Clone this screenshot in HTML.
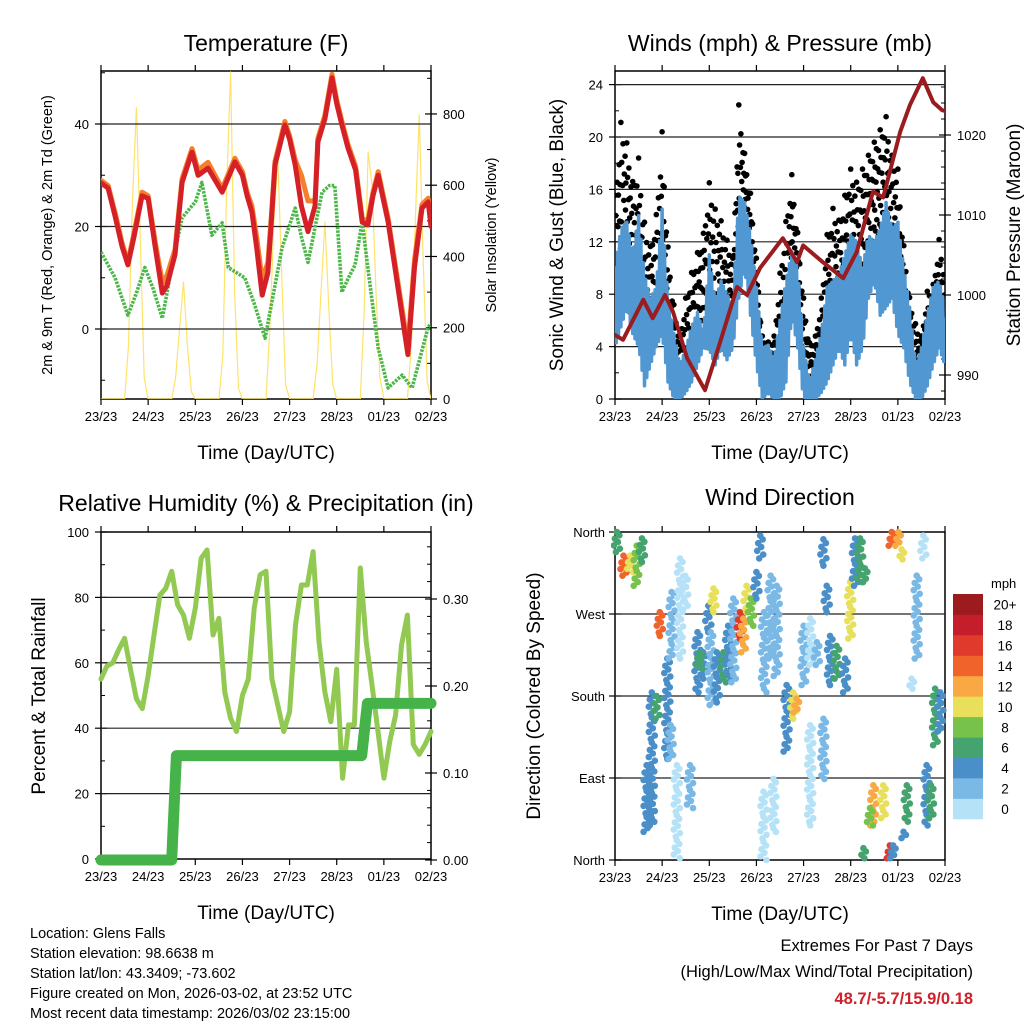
<!DOCTYPE html>
<html><head><meta charset="utf-8"><style>
body{margin:0;background:#fff}
svg text{font-family:"Liberation Sans",Arial,sans-serif;fill:#000}
</style></head><body>
<svg id="s" width="1024" height="1024" viewBox="0 0 1024 1024" xmlns="http://www.w3.org/2000/svg">
<g id="bg"></g>
</svg>
<script>
// ---- data ----
const dayLabels=["23/23","24/23","25/23","26/23","27/23","28/23","01/23","02/23"];
const tempDays=[0,0.15,0.3,0.45,0.57,0.7,0.87,1.0,1.15,1.3,1.4,1.57,1.72,1.93,2.06,2.27,2.57,2.84,3.0,3.1,3.2,3.3,3.42,3.54,3.62,3.69,3.9,4.0,4.12,4.25,4.39,4.54,4.6,4.75,4.9,5.0,5.11,5.24,5.4,5.54,5.66,5.77,5.88,6.09,6.3,6.51,6.65,6.81,6.94,7.0];
const temp2m=[28.5,27.5,22,16,12.5,18,26,25.5,16,7,8.5,14.5,28.6,34.5,30,31.4,26.7,32.6,30,26,22.8,16,6.6,11,22,32,39.8,37,32,24,19,24,36.5,41,49,44,39.8,35.3,31,20.9,20.3,26,30,20.9,8,-5,12,23.6,24.8,20];
const temp9m=[29,28,22.7,16.7,13,18.7,26.7,26,17,9,10.5,15.5,29.3,35.2,31,32.5,27.4,33.3,30.7,26.7,24,18,9.6,13,23,32.7,40.5,37.7,33,30,25,25,37.2,41.7,49.7,44.7,40.5,36,31.7,21.6,21,26.7,30.7,21.6,9,-3.5,13.5,24.3,25.5,20.7];
const dewDays=[0,0.3,0.57,0.75,0.93,1.1,1.3,1.5,1.72,2.0,2.14,2.35,2.57,2.7,3.05,3.25,3.48,3.84,4.12,4.25,4.39,4.69,4.85,4.96,5.11,5.25,5.39,5.54,5.66,5.88,6.09,6.39,6.6,6.94,7.0];
const dewPt=[15,10,2.7,7,12,8,2.1,12,21.7,24.8,28.6,18.3,20.7,12,10,5,-1.8,15.8,23.6,18,13,26.7,28,28,7.2,10,12.5,21,12,-3.7,-11.5,-9,-11.5,0.4,1];
const solar=[0,0,0,0,0,0,0,150,550,817,450,60, 0,0,0,0,0,0,0,60,200,328,150,20, 0,0,0,0,0,0,0,120,600,918,300,30, 0,0,0,0,0,0,0,200,500,677,350,40, 0,0,0,0,0,0,0,100,300,497,250,40, 0,0,0,0,0,0,0,250,694,600,300,60, 0,0,0,0,0,0,0,150,500,798,400,50,0];
const windHi=[10,13,13.5,11,14,9.5,7.7,8.5,14.5,7.5,5,2.6,3.8,5.5,6.6,5,11,7.5,9,8,7,15.5,15,12.5,8.5,3.9,4.1,3,6,9,11.2,10,4,1.3,3,5,8.5,9,9.5,11,12.5,12,10,12.5,12,13,15,13,13.5,10,7,2.6,3.9,6.5,8.5,9,7];
const windLo=[4,5.5,7,5,4,1,2.6,4,5,1.3,0,0,0.5,1.3,2.6,3.9,3.8,2.6,3.9,3,3.9,7.7,10,6.4,2.6,0,0.5,0,0,1.3,6.4,3.9,0,0,0,0.5,1.3,2.6,3.9,2.6,5,2.6,3.9,7.7,9,6.4,7,7.7,5,3.9,1.3,0,0,1,2.6,3.9,2.6];
const gustHi=[16,21.7,20,17,19,14,12,14.5,21,12,7.5,5,8,10,11.5,13,17,15,14,12.5,11,23,19,16,11,5,4.5,5,10,14,17.5,13,8,4.5,5,8,13,15,14,16,18,17,18,19,20,21,22,19,18,12,8,6,5,8.5,9,12.5,10];
const gustLo=[7,10,11,9,7,4,5,6,9,4,1.5,1,2,3,5,6,7,5,6,5,6,12,14,10,6,1,1.3,1,2,5,10,7,2,0.5,1,2,4,6,7,7,9,8,9,11,12,12,13,11,9,6,3,1,1,3,4,6,4];
const presDays=[0,0.17,0.6,0.8,1.06,1.23,1.53,1.91,2.23,2.59,2.8,3.08,3.56,3.86,3.99,4.41,4.84,5.13,5.47,5.69,6.05,6.26,6.53,6.75,6.94,7.0];
const pressure=[995,994.4,999.4,997.1,1000,997.9,992.1,988.1,994.1,1001,1000,1003.4,1007.1,1004.1,1006.2,1004.1,1002.1,1005.4,1012.9,1012.2,1020.4,1023.8,1027.1,1024.1,1023.1,1023];
const rh=[55,59,60,64,67.5,58,49,46,56,68.5,80.7,82.8,88,77.7,74.6,67.5,76.7,92,94.5,68.5,73.6,51,43,39,50,55,76.7,86.9,88,55,47,39,45,71.6,83.8,83.8,94,66.5,51,42,58,24.7,41,41,89,66.5,53,39,24.7,36,44,65.4,74.6,35,32,35,39];
const precipDays=[0,1.5,1.6,5.53,5.65,7.0];
const precipTotal=[0,0,0.12,0.12,0.18,0.18];
// wind direction streaks: day, dir from, dir to, speed
const dirDay=[0.04,0.18,0.32,0.46,0.57,0.95,0.78,0.67,0.88,1.11,1.18,1.2,1.38,1.31,1.59,1.49,1.75,1.87,1.79,1.98,2.03,2.09,2.16,2.3,2.4,2.51,2.65,2.72,2.79,2.88,3.0,3.08,3.16,3.3,3.43,3.15,3.36,3.64,3.78,3.85,4.0,4.14,4.28,4.14,4.42,4.49,4.42,4.56,4.7,4.88,4.99,5.09,5.2,5.3,5.48,5.69,5.41,5.87,6.01,6.08,5.83,6.19,6.12,6.4,6.54,6.61,6.7,6.79,6.9,5.9,5.27,6.29];
const dirFrom=[360,334,334,345,353,272,184,104,180,221,148,294,331,104,104,312,250,228,228,279,250,298,228,228,257,287,272,265,301,287,316,356,272,312,301,75,89,192,184,177,257,265,239,148,352,301,155,246,235,221,305,353,353,320,82,82,57,360,360,341,16,82,31,312,356,104,82,188,184,16,13,199];
const dirTo=[338,312,316,301,327,246,38,31,155,111,111,221,221,2,57,275,184,199,210,250,170,272,173,195,199,195,243,228,272,257,287,331,184,221,202,0,31,119,155,162,192,214,214,38,323,272,89,192,199,184,243,301,305,305,38,46,38,345,345,330,2,42,24,221,331,38,46,126,141,2,2,188];
const dirSpeed=[7,15,11,9,7,15,4,5,7,4,3,2,1,1,2,1,4,4,6,4,3,10,5,6,4,2,16,13,10,8,5,4,2,2,2,1,0,5,10,12,3,1,2,1,4,4,2,5,6,4,10,5,6,7,12,10,9,15,12,11,16,7,4,2,1,4,6,7,5,5,7,1];
const speedColors=["#b6e2f8","#7ab9e6","#4a8fc8","#44a36e","#77c24a","#e8e05a","#f9a944","#f0632a","#e03a2c","#c41e2a","#9b1b1f"];
const speedLabels=["0","2","4","6","8","10","12","14","16","18","20+"];

// ---- helpers ----
const NS="http://www.w3.org/2000/svg";
const svg=document.getElementById('s');
function el(tag,attrs,parent,text){const e=document.createElementNS(NS,tag);for(const k in attrs)e.setAttribute(k,attrs[k]);if(text!==undefined)e.textContent=text;(parent||svg).appendChild(e);return e;}
const W=330;
function xD(left,d){return left+d*W/7;}

function frame(left,top,bottom,name){
  const g=el('g',{});
  
  
  el('rect',{x:left,y:top,width:W,height:bottom-top,fill:'none',stroke:'#000','stroke-width':1.5},g);
  for(let i=0;i<8;i++){const x=xD(left,i);
    el('line',{x1:x,x2:x,y1:bottom,y2:bottom+6,stroke:'#000','stroke-width':1.2},g);
    el('line',{x1:x,x2:x,y1:top,y2:top-6,stroke:'#000','stroke-width':1.2},g);
    const t=el('text',{x:x,y:bottom+22,'font-size':13,'text-anchor':'middle'},g,dayLabels[i]);
    
    
  }
  const xt=el('text',{x:left+W/2,y:bottom+60,'font-size':19,'text-anchor':'middle'},g,'Time (Day/UTC)');
  
  
  return g;
}
function grid(left,ys,g){ys.forEach(y=>el('line',{x1:left,x2:left+W,y1:y,y2:y,stroke:'#222','stroke-width':1.2},g));}
function yTicks(x,vals,yf,fmt,side,g,minor){
  vals.forEach(v=>{const y=yf(v);
    el('line',{x1:x-6,x2:x+6,y1:y,y2:y,stroke:'#000','stroke-width':1.2},g);
    const t=el('text',{x:side<0?x-12:x+12,y:y+5,'font-size':13,'text-anchor':side<0?'end':'start'},g,fmt(v));
    
    
  });
  if(minor)minor.forEach(v=>{const y=yf(v);el('line',{x1:x,x2:x-side*4,y1:y,y2:y,stroke:'#000','stroke-width':1},g);});
}
function vtitle(x,y,txt,size,g,name){const t=el('text',{x:0,y:0,'font-size':size,'text-anchor':'middle',transform:`translate(${x},${y}) rotate(-90)`},g,txt);
  
  }
function title(x,y,txt,name){const t=el('text',{x:x,y:y,'font-size':23,'text-anchor':'middle'},svg,txt);
  
  }
function poly(pts,attrs,g,name){const p=el('polyline',Object.assign({points:pts.map(p=>p[0].toFixed(1)+','+p[1].toFixed(1)).join(' '),fill:'none','stroke-linejoin':'round','stroke-linecap':'round'},attrs),g);
  
  return p;}
function interp(arr,t){const i=Math.floor(t),f=t-i;if(i>=arr.length-1)return arr[arr.length-1];return arr[i]*(1-f)+arr[i+1]*f;}

// ---- Panel 1: Temperature ----
(function(){
  const L=101,T=71,B=399;
  const yT=v=>329-5.125*v, yS=v=>399-v*0.3563;
  title(266,51,'Temperature (F)','temperature-title');
  const g=frame(L,T,B,'temperature');
  const clip=el('clipPath',{id:'c1'});el('rect',{x:L,y:T,width:W,height:B-T},clip);
  const d=el('g',{'clip-path':'url(#c1)'});
  poly(solar.map((v,i)=>[xD(L,i/12),yS(v)]),{stroke:'#fde36a','stroke-width':1.2},d,'solar-insolation-line');
  grid(L,[yT(40),yT(20),yT(0)],d);
  poly(dewDays.map((v,i)=>[xD(L,v),yT(dewPt[i])]),{stroke:'#4cb649','stroke-width':3.6,'stroke-dasharray':'2.5 1.2','stroke-linecap':'butt'},d,'dewpoint-line');
  poly(tempDays.map((v,i)=>[xD(L,v),yT(temp9m[i])]),{stroke:'#f57f2a','stroke-width':5},d,'temp-9m-line');
  poly(tempDays.map((v,i)=>[xD(L,v),yT(temp2m[i])]),{stroke:'#d42026','stroke-width':5},d,'temp-2m-line');
  yTicks(L,[0,20,40],yT,v=>String(v),-1,g,[-10,10,30,50]);
  yTicks(L+W,[0,200,400,600,800],yS,v=>String(v),1,g,[100,300,500,700,900]);
  vtitle(52,235,'2m & 9m T (Red, Orange) & 2m Td (Green)',14.5,g,'temperature-y-axis-title');
  vtitle(496,235,'Solar Insolation (Yellow)',14.5,g,'solar-y-axis-title');
})();

// ---- Panel 2: Winds & Pressure ----
(function(){
  const L=615,T=71,B=399;
  const yW=v=>399-13.1*v, yP=v=>295-(v-1000)*8;
  title(780,51,'Winds (mph) & Pressure (mb)','winds-title');
  const g=frame(L,T,B,'winds');
  const clip=el('clipPath',{id:'c2'});el('rect',{x:L,y:T,width:W,height:B-T},clip);
  const d=el('g',{'clip-path':'url(#c2)'});
  grid(L,[4,8,12,16,20,24].map(yW),d);
  // gust dots
  const fr=[0.95,0.3,0.7,0.1,0.55,0.85,0.2,0.45,0.65,0.05,0.8,0.38,0.6,0.15];
  const gg=el('g',{},d);
  
  
  for(let i=0;i<gustHi.length-1;i++){for(let k=0;k<14;k++){const t=i+k/14;const hi=interp(gustHi,t),lo=interp(gustLo,t);
    el('circle',{cx:xD(L,t/8).toFixed(1),cy:yW(lo+(hi-lo)*fr[k]).toFixed(1),r:2.8,fill:'#000'},gg);}}
  // wind band
  const pts=[];
  for(let i=0;i<(windHi.length-1)*5;i++){const t=i/5;pts.push([xD(L,t/8),yW(i%2?interp(windLo,t):interp(windHi,t))]);}
  const up=windHi.map((v,i)=>[xD(L,i/8),yW(v*0.8+windLo[i]*0.2)]);
  const dn=windLo.map((v,i)=>[xD(L,i/8),yW(v*0.8+windHi[i]*0.2)]).reverse();
  const pg=el('polygon',{points:up.concat(dn).map(p=>p[0].toFixed(1)+','+p[1].toFixed(1)).join(' '),fill:'#5197d2'},d);
  
  
  poly(pts,{stroke:'#5197d2','stroke-width':3.5},d,'wind-speed-line');
  poly(presDays.map((v,i)=>[xD(L,v),yP(pressure[i])]),{stroke:'#9b1c1f','stroke-width':4},d,'pressure-line');
  yTicks(L,[0,4,8,12,16,20,24],yW,v=>String(v),-1,g,[2,6,10,14,18,22]);
  yTicks(L+W,[990,1000,1010,1020],yP,v=>String(v),1,g,[988,992,994,996,998,1002,1004,1006,1008,1012,1014,1016,1018,1022,1024,1026,1028]);
  vtitle(563,235,'Sonic Wind & Gust (Blue, Black)',19,g,'wind-y-axis-title');
  vtitle(1020,235,'Station Pressure (Maroon)',19,g,'pressure-y-axis-title');
})();

// ---- Panel 3: RH & Precip ----
(function(){
  const L=101,T=532,B=859;
  const yR=v=>859-v*3.27, yPr=v=>860-v*870;
  title(266,511,'Relative Humidity (%) & Precipitation (in)','humidity-title');
  const g=frame(L,T,B,'humidity');
  const clip=el('clipPath',{id:'c3'});el('rect',{x:L-6,y:T,width:W+12,height:B-T+8},clip);
  const d=el('g',{'clip-path':'url(#c3)'});
  grid(L,[20,40,60,80].map(yR),d);
  poly(rh.map((v,i)=>[xD(L,i/8),yR(v)]),{stroke:'#92c952','stroke-width':5},d,'humidity-line');
  poly(precipDays.map((v,i)=>[xD(L,v),yPr(precipTotal[i])]),{stroke:'#45b34a','stroke-width':11},d,'precipitation-line');
  yTicks(L,[0,20,40,60,80,100],yR,v=>String(v),-1,g,[10,30,50,70,90]);
  yTicks(L+W,[0,0.1,0.2,0.3],yPr,v=>v.toFixed(2),1,g,[0.02,0.04,0.06,0.08,0.12,0.14,0.16,0.18,0.22,0.24,0.26,0.28,0.32,0.34,0.36]);
  vtitle(45,696,'Percent & Total Rainfall',19,g,'humidity-y-axis-title');
})();

// ---- Panel 4: Wind direction ----
(function(){
  const L=615,T=532,B=860;
  const yD=v=>532+(360-v)*328/360;
  title(780,505,'Wind Direction','wind-direction-title');
  const g=frame(L,T,B,'wind-direction');
  const clip=el('clipPath',{id:'c4'});el('rect',{x:L-4,y:T-4,width:W+8,height:B-T+8},clip);
  const d=el('g',{'clip-path':'url(#c4)'});
  grid(L,[90,180,270].map(yD),d);
  const jit=[0,2.5,-2,1,-3,3,-1];
  for(let s=0;s<dirDay.length;s++){
    const a=dirFrom[s],b=dirTo[s];const n=Math.max(1,Math.round(Math.abs(a-b)/4));
    const bin=Math.min(10,Math.floor(dirSpeed[s]/2));
    for(let k=0;k<=n;k++){const v=a+(b-a)*k/n;
      const c=el('circle',{cx:(xD(L,dirDay[s])+jit[k%7]).toFixed(1),cy:yD(v).toFixed(1),r:3.3,fill:speedColors[bin]},d);
      
      
    }
  }
  const labs=[[360,'North'],[270,'West'],[180,'South'],[90,'East'],[0,'North']];
  labs.forEach(l=>{const y=yD(l[0]);el('line',{x1:L-6,x2:L+6,y1:y,y2:y,stroke:'#000','stroke-width':1.2},g);
    const t=el('text',{x:L-10,y:y+5,'font-size':13,'text-anchor':'end'},g,l[1]);
    
    });
  vtitle(540,696,'Direction (Colored By Speed)',19,g,'direction-y-axis-title');
  // colorbar
  const cb=el('g',{});
  
  
  const t0=el('text',{x:991,y:588,'font-size':13},cb,'mph');
  
  
  for(let i=0;i<11;i++){const y=819-(i+1)*20.45;
    el('rect',{x:953,y:y.toFixed(1),width:30,height:20.8,fill:speedColors[i]},cb);
    const t=el('text',{x:1005,y:(y+15.5).toFixed(1),'font-size':13.5,'text-anchor':'middle'},cb,speedLabels[i]);
    
    }
})();

// ---- footer ----
const info=["Location: Glens Falls","Station elevation: 98.6638 m","Station lat/lon: 43.3409; -73.602","Figure created on Mon, 2026-03-02, at 23:52 UTC","Most recent data timestamp: 2026/03/02 23:15:00"];
info.forEach((s,i)=>{const t=el('text',{x:30,y:938+i*20,'font-size':14.5},svg,s);
  
  });
const e1=el('text',{x:973,y:951,'font-size':16.5,'text-anchor':'end'},svg,'Extremes For Past 7 Days');


const e2=el('text',{x:973,y:977,'font-size':16.5,'text-anchor':'end'},svg,'(High/Low/Max Wind/Total Precipitation)');


const e3=el('text',{x:973,y:1004,'font-size':16.5,'text-anchor':'end','font-weight':'bold',style:'fill:#d0202a'},svg,'48.7/-5.7/15.9/0.18');


</script>
</body></html>
